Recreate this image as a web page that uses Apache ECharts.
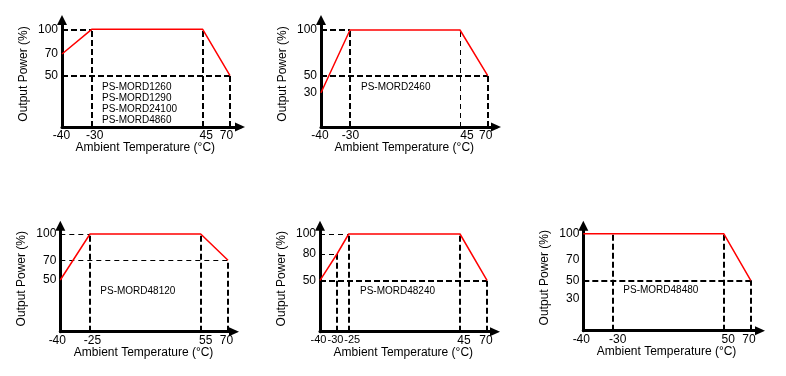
<!DOCTYPE html>
<html>
<head>
<meta charset="utf-8">
<script src="https://cdn.jsdelivr.net/npm/echarts@6/dist/echarts.min.js"></script>
<style>
  html, body { margin: 0; padding: 0; background: #fff; }
  #chart { width: 786px; height: 376px; }
</style>
</head>
<body>
<div id="chart"></div>
<script>
// derating curves, one block per module family
// temps = x tick labels (°C), power = y tick labels (%)

const temps1 = [-40, -30, 45, 70]
const power1 = [50, 70, 100]
const curve1 = [[-40, 70], [-30, 100], [45, 100], [70, 50]]
const drops1 = [[-30, 100], [45, 100], [70, 50]]   // heavy dashed verticals
const thinDrops1 = []
const levels1 = [[-30, 100], [70, 50]]             // heavy dashed horizontals
const thinLevels1 = []
const models1 = ['PS-MORD1260', 'PS-MORD1290', 'PS-MORD24100', 'PS-MORD4860']

const temps2 = [-40, -30, 45, 70]
const power2 = [30, 50, 100]
const curve2 = [[-40, 30], [-30, 100], [45, 100], [70, 50]]
const drops2 = [[-30, 100], [70, 50]]
const thinDrops2 = [[45, 100]]
const levels2 = [[-30, 100], [70, 50]]
const thinLevels2 = []
const models2 = ['PS-MORD2460']

const temps3 = [-40, -25, 55, 70]
const power3 = [50, 70, 100]
const curve3 = [[-40, 50], [-25, 100], [55, 100], [70, 70]]
const drops3 = [[-25, 100], [55, 100], [70, 70]]
const thinDrops3 = []
const levels3 = []
const thinLevels3 = [[-25, 100], [70, 70]]
const models3 = ['PS-MORD48120']

const temps4 = [-40, -30, -25, 45, 70]
const power4 = [50, 80, 100]
const curve4 = [[-40, 50], [-30, 80], [-25, 100], [45, 100], [70, 50]]
const drops4 = [[-30, 80], [-25, 100], [45, 100], [70, 50]]
const thinDrops4 = []
const levels4 = [[70, 50]]
const thinLevels4 = [[-30, 80], [-25, 100]]
const models4 = ['PS-MORD48240']

const temps5 = [-40, -30, 50, 70]
const power5 = [30, 50, 70, 100]
const curve5 = [[-40, 100], [50, 100], [70, 50]]
const drops5 = [[-30, 100], [50, 100], [70, 50]]
const thinDrops5 = []
const levels5 = [[70, 50]]
const thinLevels5 = []
const models5 = ['PS-MORD48480']

const xTitle = 'Ambient Temperature (°C)'
const yTitle = 'Output Power (%)'

// layout: axis origin in px, where each tick sits along the axis (the drawings are not to scale),
// a small sideways nudge of each x label, and the font size of each x label
const layouts = [
    { ox: 62, oy: 127, xOff: [0, 29.7, 140.7, 168], yOff: [0, 51.3, 73, 97.7], xTip: 183, yTip: 112, nudge: [-0.5, 3, 3.5, -3.5], xFont: [12, 12, 12, 12] },
    { ox: 321, oy: 127, xOff: [0, 29, 139, 166.7], yOff: [0, 34.3, 51.3, 97], xTip: 180, yTip: 112, nudge: [-1, 0.5, 7, -2], xFont: [12, 12, 12, 12] },
    { ox: 60.3, oy: 331.7, xOff: [0, 29.7, 140.4, 167.7], yOff: [0, 51.7, 71.4, 97.7], xTip: 178.7, yTip: 111, nudge: [-3, 2.5, 5, -1.5], xFont: [12, 12, 12, 12] },
    { ox: 320, oy: 331.7, xOff: [0, 17, 28.7, 140, 167], yOff: [0, 51.4, 77.7, 97.7], xTip: 180, yTip: 111, nudge: [-1.5, -1.5, 3.5, 4, -1], xFont: [11, 11, 11, 12, 12] },
    { ox: 583.3, oy: 330.7, xOff: [0, 29.4, 140.4, 167.4], yOff: [0, 31.7, 50.4, 70.7, 97], xTip: 181.7, yTip: 110, nudge: [-2, 5, 4.5, -1.7], xFont: [12, 12, 12, 12] }
]

const charts = [
    { temps: temps1, power: power1, curve: curve1, drops: drops1, thinDrops: thinDrops1, levels: levels1, thinLevels: thinLevels1, models: models1 },
    { temps: temps2, power: power2, curve: curve2, drops: drops2, thinDrops: thinDrops2, levels: levels2, thinLevels: thinLevels2, models: models2 },
    { temps: temps3, power: power3, curve: curve3, drops: drops3, thinDrops: thinDrops3, levels: levels3, thinLevels: thinLevels3, models: models3 },
    { temps: temps4, power: power4, curve: curve4, drops: drops4, thinDrops: thinDrops4, levels: levels4, thinLevels: thinLevels4, models: models4 },
    { temps: temps5, power: power5, curve: curve5, drops: drops5, thinDrops: thinDrops5, levels: levels5, thinLevels: thinLevels5, models: models5 }
]

const FONT = '"Liberation Sans", Arial, sans-serif'
const ARROW = 5 // half length of the arrow head

// piecewise mapping from a value to its position along the drawn axis
function interp (v, knots, offs) {
    for (let i = 1; i < knots.length; i++) {
        if (v <= knots[i] || i === knots.length - 1) {
            let f = (v - knots[i - 1]) / (knots[i] - knots[i - 1])
            return offs[i - 1] + f * (offs[i] - offs[i - 1])
        }
    }
    return offs[0]
}

function nearest (v, offs) {
    let best = 0
    for (let i = 1; i < offs.length; i++) {
        if (Math.abs(offs[i] - v) < Math.abs(offs[best] - v)) best = i
    }
    return best
}

let grid = []
let xAxis = []
let yAxis = []
let series = []
let graphic = []

charts.forEach(function (c, i) {
    let L = layouts[i]
    let xLen = L.xTip - ARROW
    let yLen = L.yTip - ARROW
    let yKnots = [0].concat(c.power)
    let X = function (t) { return interp(t, c.temps, L.xOff) }
    let Y = function (p) { return interp(p, yKnots, L.yOff) }
    let pt = function (d) { return [X(d[0]), Y(d[1])] }
    let t0 = c.temps[0]

    // rich styles that push each x label sideways by its nudge
    let rich = {}
    L.nudge.forEach(function (n, k) {
        rich['n' + k] = {
            color: '#000',
            fontFamily: FONT,
            fontSize: L.xFont[k],
            padding: n >= 0 ? [0, 0, 0, 2 * n] : [0, -2 * n, 0, 0]
        }
    })

    grid.push({ left: L.ox, top: L.oy - yLen, width: xLen, height: yLen })

    xAxis.push({
        gridIndex: i,
        type: 'value',
        min: 0,
        max: xLen,
        axisLine: {
            lineStyle: { color: '#000', width: 3 },
            symbol: ['none', 'triangle'],
            symbolSize: [9, 10]
        },
        axisTick: { show: false },
        splitLine: { show: false },
        axisLabel: {
            customValues: L.xOff,
            formatter: function (v) {
                let k = nearest(v, L.xOff)
                return '{n' + k + '|' + c.temps[k] + '}'
            },
            rich: rich,
            showMinLabel: true,
            showMaxLabel: true,
            hideOverlap: false,
            color: '#000',
            fontFamily: FONT,
            fontSize: 12,
            margin: 3
        }
    })

    yAxis.push({
        gridIndex: i,
        type: 'value',
        min: 0,
        max: yLen,
        axisLine: {
            lineStyle: { color: '#000', width: 3 },
            symbol: ['none', 'triangle'],
            symbolSize: [10, 10]
        },
        axisTick: { show: false },
        splitLine: { show: false },
        axisLabel: {
            customValues: L.yOff.slice(1),
            formatter: function (v) { return String(c.power[nearest(v, L.yOff.slice(1))]) },
            showMinLabel: true,
            showMaxLabel: true,
            hideOverlap: false,
            color: '#000',
            fontFamily: FONT,
            fontSize: 12,
            margin: 4
        }
    })

    // dashed guide lines
    let guide = function (list, vertical, width, dash) {
        if (!list.length) return
        series.push({
            type: 'lines',
            coordinateSystem: 'cartesian2d',
            xAxisIndex: i,
            yAxisIndex: i,
            silent: true,
            z: 2,
            lineStyle: { color: '#000', width: width, type: dash, opacity: 1 },
            data: list.map(function (d) {
                let a = vertical ? [d[0], 0] : [t0, d[1]]
                return { coords: [pt(a), pt(d)] }
            })
        })
    }
    guide(c.drops, true, 2, [6, 3])
    guide(c.thinDrops, true, 1, [5, 4])
    guide(c.levels, false, 2, [6, 3])
    guide(c.thinLevels, false, 1, [5, 4])

    // derating curve
    series.push({
        type: 'line',
        xAxisIndex: i,
        yAxisIndex: i,
        symbol: 'none',
        z: 3,
        lineStyle: { color: '#ff0000', width: 1.5 },
        data: c.curve.map(pt)
    })

    // axis titles
    graphic.push({
        type: 'text',
        x: L.ox - 38.5,
        y: L.oy - 53,
        rotation: Math.PI / 2,
        style: { text: yTitle, font: '12px ' + FONT, fill: '#000', align: 'center', verticalAlign: 'middle' }
    })
    graphic.push({
        type: 'text',
        x: L.ox + 83.3,
        y: L.oy + 20.5,
        style: { text: xTitle, font: '12px ' + FONT, fill: '#000', align: 'center', verticalAlign: 'middle' }
    })
    // model names
    c.models.forEach(function (m, k) {
        graphic.push({
            type: 'text',
            x: L.ox + 40,
            y: L.oy - 40 + k * 11,
            style: { text: m, font: '10px ' + FONT, fill: '#000', align: 'left', verticalAlign: 'middle' }
        })
    })
})

let myChart = echarts.init(document.getElementById('chart'))
myChart.setOption({
    animation: false,
    backgroundColor: '#fff',
    grid: grid,
    xAxis: xAxis,
    yAxis: yAxis,
    series: series,
    graphic: graphic
})
</script>
</body>
</html>
